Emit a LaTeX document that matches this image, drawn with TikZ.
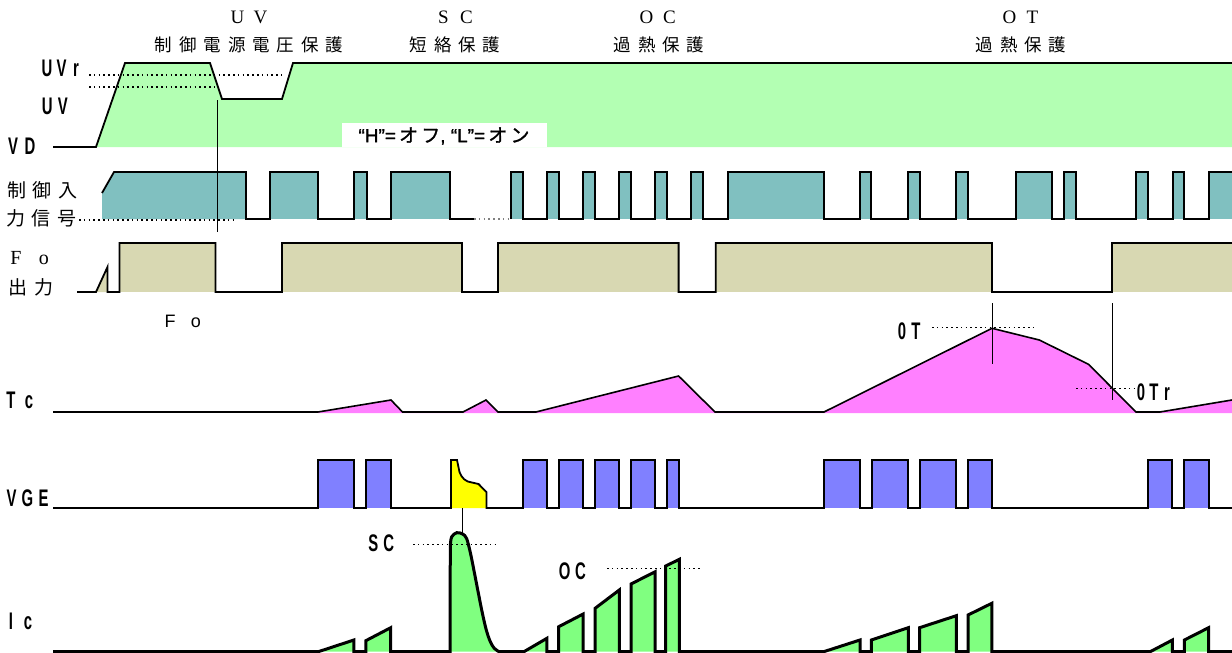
\documentclass[tikz,border=0pt]{standalone}
\usepackage{fontspec}
\setmainfont{Liberation Serif}
\newfontfamily\cjk{Noto Sans CJK JP}
\newfontfamily\cjkb[FakeBold=1.2]{Noto Sans CJK JP}
\newfontfamily\cnd[FakeStretch=0.62]{Liberation Sans Bold}
\newfontfamily\lsans{Liberation Sans}
\newfontfamily\lsansb[FakeBold=1.2]{Liberation Sans}
\definecolor{vdg}{HTML}{B3FFB3}
\definecolor{ctl}{HTML}{80C0C0}
\definecolor{fok}{HTML}{D8D8B2}
\definecolor{tcm}{HTML}{FF80FF}
\definecolor{vgb}{HTML}{8080FF}
\definecolor{scy}{HTML}{FFFF00}
\definecolor{icg}{HTML}{80FF80}
\newlength\cw
\def\jsp#1{\ifx#1\relax\else\makebox[\cw]{#1}\expandafter\jsp\fi}
\begin{document}
\begin{tikzpicture}[x=1pt,y=-1pt,
  every node/.style={inner sep=0pt,outer sep=0pt},
  wave/.style={line width=1.8pt},
  icwave/.style={line width=3pt},
  thinl/.style={line width=1pt},
  dots/.style={line width=1.4pt,dash pattern=on 1.6pt off 3.2pt},
  fdots/.style={line width=1pt,dash pattern=on 1.6pt off 3.2pt},
  lbl/.style={font=\cnd\fontsize{24}{24}\selectfont},
  ttl/.style={font=\rmfamily\fontsize{19}{19}\selectfont},
  cjkt/.style={font=\cjk\fontsize{17.5}{18}\selectfont},
  cjkl/.style={font=\cjk\fontsize{19}{19}\selectfont},
  serl/.style={font=\rmfamily\fontsize{20}{20}\selectfont},
  sanl/.style={font=\lsans\fontsize{18}{18}\selectfont}]
\useasboundingbox (0,0) rectangle (1232,653);

% ---------- titles ----------
\node[ttl]  (t1a) at (249,17) {\setlength\cw{23pt}\jsp UV\relax};
\node[cjkt] (t1b) at (249,45) {\setlength\cw{24.4pt}\jsp 制御電源電圧保護\relax};
\node[ttl]  (t2a) at (455,17) {\setlength\cw{23pt}\jsp SC\relax};
\node[cjkt] (t2b) at (455,45) {\setlength\cw{24.4pt}\jsp 短絡保護\relax};
\node[ttl]  (t3a) at (658,17) {\setlength\cw{23pt}\jsp OC\relax};
\node[cjkt] (t3b) at (659,45) {\setlength\cw{24.4pt}\jsp 過熱保護\relax};
\node[ttl]  (t4a) at (1021,17) {\setlength\cw{23pt}\jsp OT\relax};
\node[cjkt] (t4b) at (1021,45) {\setlength\cw{24.4pt}\jsp 過熱保護\relax};

% ---------- VD ----------
\fill[vdg] (96,147) -- (125,63) -- (210,63) -- (222,99) -- (282,99) -- (293,63) -- (1232,63) -- (1232,147) -- cycle;
\fill[white] (342,123) rectangle (547,147);
\node[font=\lsansb\fontsize{19}{19}\selectfont] (hl) at (444,136) {“H”={\cjkb\,オ\,フ}, “L”={\cjkb\,オ\,ン}};
\draw[dots] (89,75) -- (282,75);
\draw[dots] (89,87) -- (215,87);
\draw[wave] (53,147) -- (96,147) -- (125,63) -- (210,63) -- (222,99) -- (282,99) -- (293,63) -- (1232,63);
\node[lbl] (uvr) at (61.5,68) {\setlength\cw{14.5pt}\jsp UVr\relax};
\node[lbl] (uv)  at (55,106) {\setlength\cw{15.5pt}\jsp UV\relax};
\node[lbl] (vd)  at (21.5,146) {\setlength\cw{17pt}\jsp VD\relax};

% ---------- control input ----------
\fill[ctl] (102,219) -- (102,193) -- (114,172) -- (246,172) -- (246,219) -- cycle;
\foreach \a/\b in {270/318,354/367,391/450,511/523,547/559,583/595,619/631,655/667,691/703,728/824,860/871,908/920,956/968,1016/1052,1064/1076,1136/1148,1173/1184,1209/1232}
  \fill[ctl] (\a,172) rectangle (\b,219);
\draw[dots] (79,220) -- (233,220);
\draw[wave] (102,193) -- (114,172) -- (246,172) -- (246,219)
  \foreach \a/\b in {270/318,354/367,391/450} {-- (\a,219) -- (\a,172) -- (\b,172) -- (\b,219)} -- (474,219);
\draw[dots,gray] (474,219) -- (511,219);
\draw[wave] (511,219)
  \foreach \a/\b in {511/523,547/559,583/595,619/631,655/667,691/703,728/824,860/871,908/920,956/968,1016/1052,1064/1076,1136/1148,1173/1184} {-- (\a,219) -- (\a,172) -- (\b,172) -- (\b,219)} -- (1209,219) -- (1209,172) -- (1232,172);
\draw[thinl] (217,100) -- (217,232);
\node[cjkl] (ci1) at (42.5,190) {\setlength\cw{25.5pt}\jsp 制御入\relax};
\node[cjkl] (ci2) at (41.5,218) {\setlength\cw{25.5pt}\jsp 力信号\relax};

% ---------- Fo ----------
\fill[fok] (96,292) -- (107.5,267) -- (107.5,292) -- cycle;
\foreach \a/\b in {119.5/215.5,282/462,498/678.6,715.7/992,1112/1232}
  \fill[fok] (\a,243) rectangle (\b,292);
\draw[wave] (77,292) -- (96,292) -- (107.5,267) -- (107.5,292) -- (119.5,292) -- (119.5,243) -- (215.5,243) -- (215.5,292) -- (282,292) -- (282,243) -- (462,243) -- (462,292) -- (498,292) -- (498,243) -- (678.6,243) -- (678.6,292) -- (715.7,292) -- (715.7,243) -- (992,243) -- (992,292) -- (1112,292) -- (1112,243) -- (1232,243);
\node[serl] (fo1) at (30,258) {\setlength\cw{28pt}\jsp Fo\relax};
\node[cjkl] (fo2) at (31,287) {\setlength\cw{26.5pt}\jsp 出力\relax};
\node[sanl] (fo3) at (183,321) {\setlength\cw{26pt}\jsp Fo\relax};

% ---------- Tc ----------
\fill[tcm] (318,412) -- (391,400) -- (402.5,412) -- (463,412) -- (486,400) -- (498,412) -- (536,412) -- (678.6,376) -- (715,412) -- (824,412) -- (992,328.3) -- (1039.3,340) -- (1088.5,364.3) -- (1136,412) -- (1160,412) -- (1232,400) -- (1232,413) -- (318,413) -- cycle;
\draw[wave,line width=1.6pt] (53,412) -- (318,412) -- (391,400) -- (402.5,412) -- (463,412) -- (486,400) -- (498,412) -- (536,412) -- (678.6,376) -- (715,412) -- (824,412) -- (992,328.3) -- (1039.3,340) -- (1088.5,364.3) -- (1136,412) -- (1160,412) -- (1232,400);
\draw[thinl] (992,303) -- (992,364);
\draw[thinl] (1112,303) -- (1112,400);
\draw[fdots] (932,327) -- (1037,327);
\draw[fdots] (1076,388) -- (1136,388);
\node[lbl] (ot)  at (909,331.5) {\setlength\cw{14pt}\jsp 0T\relax};
\node[lbl] (otr) at (1154,392) {\setlength\cw{13pt}\jsp 0Tr\relax};
\node[lbl] (tc)  at (20,400) {\setlength\cw{18pt}\jsp Tc\relax};

% ---------- VGE ----------
\foreach \a/\b in {318/354,366/391,523/547,559/583,595/619,631/655,667/679,824/860,872/908,920/956,968/992,1148/1172,1184/1209}
  \fill[vgb] (\a,460) rectangle (\b,508);
\fill[scy] (451,508) -- (451,460) -- (457,460) -- (459.5,472) to[out=-70,in=175] (472,482.5) -- (478.5,484) -- (486.4,492) -- (486.4,508) -- cycle;
\draw[wave] (53,508)
  \foreach \a/\b in {318/354,366/391} {-- (\a,508) -- (\a,460) -- (\b,460) -- (\b,508)}
  -- (451,508) -- (451,460) -- (457,460) -- (459.5,472) to[out=-70,in=175] (472,482.5) -- (478.5,484) -- (486.4,492) -- (486.4,508)
  \foreach \a/\b in {523/547,559/583,595/619,631/655,667/679,824/860,872/908,920/956,968/992,1148/1172,1184/1209} {-- (\a,508) -- (\a,460) -- (\b,460) -- (\b,508)}
  -- (1232,508);
\draw[thinl] (462,508) -- (462,533);
\node[lbl] (vge) at (27.5,498) {\setlength\cw{16pt}\jsp VGE\relax};

% ---------- Ic ----------
\path[fill=icg,draw=black,icwave] (53,651.7) -- (318.3,651.7) -- (353.9,640) -- (353.9,651.7) -- (365.8,651.7) -- (365.8,640.7) -- (390.7,627.7) -- (390.7,651.7) -- (450,651.7)
  -- plot[smooth,tension=0.55] coordinates {(450.3,546) (451.6,537) (456.7,532.7) (462.6,534) (466.6,538.5) (470.5,553.3) (474.5,573.3) (478.4,593.3) (482.4,613.3) (486.3,630) (490.3,641.7) (494.3,648.3) (499,651.7)}
  -- (523.9,651.7) -- (546.9,638.3) -- (546.9,651.7) -- (558.7,651.7) -- (558.7,626.7) -- (583.2,614) -- (583.2,651.7) -- (595.1,651.7) -- (595.1,608.3) -- (619.3,590) -- (619.3,651.7) -- (631,651.7) -- (631,584) -- (655.2,571.7) -- (655.2,651.7) -- (665.7,651.7) -- (665.7,566) -- (679.4,559.3) -- (679.4,651.7) -- (823.7,651.7) -- (860,640) -- (860,651.7) -- (871.3,651.7) -- (871.3,640) -- (908.3,627.7) -- (908.3,651.7) -- (919.6,651.7) -- (919.6,627.7) -- (956.3,615.7) -- (956.3,651.7) -- (968,651.7) -- (968,615) -- (991.8,603.3) -- (991.8,651.7) -- (1150.2,651.7) -- (1172.4,640) -- (1172.4,651.7) -- (1184.4,651.7) -- (1184.4,640) -- (1208.6,627.7) -- (1208.6,651.7) -- (1232,651.7);
\draw[fdots] (413,544.3) -- (498,544.3);
\draw[fdots] (607,568) -- (701,568);
\node[lbl] (sc) at (381,543) {\setlength\cw{15.5pt}\jsp SC\relax};
\node[lbl] (oc) at (572.6,571.7) {\setlength\cw{16pt}\jsp OC\relax};
\node[lbl] (ic) at (19.5,621) {\setlength\cw{17pt}\jsp Ic\relax};
\end{tikzpicture}
\end{document}
